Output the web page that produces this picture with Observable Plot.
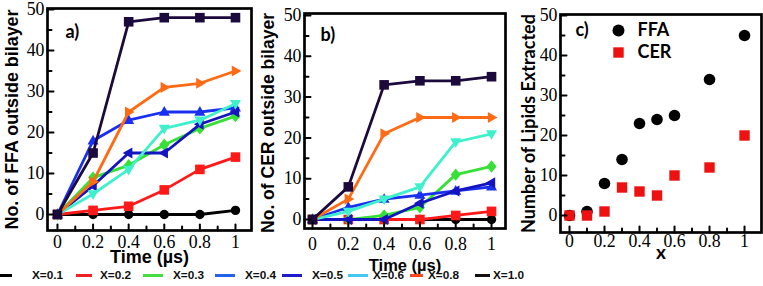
<!DOCTYPE html>
<html>
<head>
<meta charset="utf-8">
<script src="https://cdn.jsdelivr.net/npm/d3@7"></script>
<script src="https://cdn.jsdelivr.net/npm/@observablehq/plot@0.6"></script>
<style>
html, body { margin: 0; padding: 0; background: #fff; }
#chart { position: relative; width: 763px; height: 286px; overflow: hidden; background: #fff; }
#chart svg { position: absolute; top: 0; }
.legline { position: absolute; height: 3px; top: 274px; }
.legtext { position: absolute; top: 268px; line-height: 16px; font: bold 11.8px "Liberation Sans", Arial, sans-serif; color: #111; white-space: nowrap; }
</style>
</head>
<body>
<div id="chart"></div>
<script>
// ---------- data ----------
const times = [0, 0.2, 0.4, 0.6, 0.8, 1];
const seriesNames = ["X=0.1", "X=0.2", "X=0.3", "X=0.4", "X=0.5", "X=0.6", "X=0.8", "X=1.0"];
// FFA outside bilayer (panel a), one row per series
const ffaValues = [
  [0, 0, 0, 0, 0, 1],
  [0, 1, 2, 6, 11, 14],
  [0, 9, 12, 17, 21, 24],
  [0, 18, 23, 25, 25, 26],
  [0, 7, 15, 15, 22, 25],
  [0, 5, 11, 21, 23, 27],
  [0, 8, 25, 31, 32, 35],
  [0, 15, 47, 48, 48, 48]
];
// CER outside bilayer (panel b)
const cerValues = [
  [0, 0, 0, 0, 0, 0],
  [0, 0, 0, 0, 1, 2],
  [0, 0, 1, 3, 11, 13],
  [0, 3, 5, 6, 7, 8],
  [0, 0, 0, 4, 7, 9],
  [0, 2, 5, 8, 19, 21],
  [0, 5, 21, 25, 25, 25],
  [0, 8, 33, 34, 34, 35]
];
// panel c
const xFraction = [0, 0.1, 0.2, 0.3, 0.4, 0.5, 0.6, 0.8, 1];
const ffaExtracted = [0, 1, 8, 14, 23, 24, 25, 34, 45];
const cerExtracted = [0, 0, 1, 7, 6, 5, 10, 12, 20];
// ticks
const xMajorTicks = [0, 0.2, 0.4, 0.6, 0.8, 1];
const xMajorLabels = ["0", "0.2", "0.4", "0.6", "0.8", "1"];
const xMinorTicks = [0.1, 0.3, 0.5, 0.7, 0.9];
const yMajorTicks = [0, 10, 20, 30, 40, 50];
const yMinorTicks = [5, 15, 25, 35, 45];

// ---------- styles ----------
const seriesColors = ["#000000", "#ff1a1a", "#36e036", "#1a30f0", "#1414c0", "#3ef0cc", "#ff6a14", "#1c0a3c"];
const legendColors = ["#000000", "#ee2020", "#44dd44", "#2262ee", "#1c1ccc", "#44c8f0", "#ff4422", "#111111"];
const serifFont = "'Liberation Serif', 'Times New Roman', 'DejaVu Serif', serif";

function polySymbol(pts) {
  return {
    draw(ctx, size) {
      const r = Math.sqrt(size / Math.PI);
      ctx.moveTo(pts[0][0] * r, pts[0][1] * r);
      for (let i = 1; i < pts.length; i++) ctx.lineTo(pts[i][0] * r, pts[i][1] * r);
      ctx.closePath();
    }
  };
}
const symSquare = polySymbol([[-1, -1], [1, -1], [1, 1], [-1, 1]]);
const symDiamond = polySymbol([[0, -1.35], [1.1, 0], [0, 1.35], [-1.1, 0]]);
const symUp = polySymbol([[0, -1.3], [1.2, 0.8], [-1.2, 0.8]]);
const symDown = polySymbol([[0, 1.3], [1.2, -0.8], [-1.2, -0.8]]);
const symLeft = polySymbol([[-1.3, 0], [0.8, -1.2], [0.8, 1.2]]);
const symRight = polySymbol([[1.3, 0], [-0.8, -1.2], [-0.8, 1.2]]);
const seriesSymbols = ["circle", symSquare, symDiamond, symUp, symLeft, symDown, symRight, symSquare];
const seriesR = [4.7, 4.8, 4.6, 4.6, 4.6, 4.6, 4.6, 4.8];

const tickShape = { draw(ctx, l) { ctx.moveTo(0, 0); ctx.lineTo(0, -l); } };

const chart = document.getElementById("chart");

function axisMarks(o) {
  return [
    Plot.frame({ stroke: "#000", strokeWidth: 2.7 }),
    Plot.vector(xMajorTicks, { x: d => d, frameAnchor: "bottom", length: 6, rotate: 0, anchor: "start", shape: tickShape, strokeWidth: 2, stroke: "#000" }),
    Plot.vector(xMinorTicks, { x: d => d, frameAnchor: "bottom", length: 4, rotate: 0, anchor: "start", shape: tickShape, strokeWidth: 2, stroke: "#000" }),
    Plot.vector(yMajorTicks, { y: d => d, frameAnchor: "left", length: 6, rotate: 90, anchor: "start", shape: tickShape, strokeWidth: 2, stroke: "#000" }),
    Plot.vector(yMinorTicks, { y: d => d, frameAnchor: "left", length: 4, rotate: 90, anchor: "start", shape: tickShape, strokeWidth: 2, stroke: "#000" }),
    Plot.text(xMajorTicks, { x: d => d, text: (d, i) => xMajorLabels[i], frameAnchor: "bottom", dy: o.xLabelDy, textAnchor: "middle", lineAnchor: "middle", fontFamily: serifFont, fontSize: 17.8, fill: "#000" }),
    Plot.text(yMajorTicks, { y: d => d, text: d => String(d), frameAnchor: "left", dx: -3, textAnchor: "end", lineAnchor: "middle", fontFamily: serifFont, fontSize: 17.8, fill: "#000" }),
    Plot.text([o.xTitle], { frameAnchor: "bottom", dy: o.xTitleDy, textAnchor: "middle", lineAnchor: "middle", fontFamily: o.xTitleFont, fontWeight: "bold", fontSize: o.xTitleSize, fill: "#000" }),
    Plot.text([o.yTitle], { frameAnchor: "left", dx: o.yTitleDx, dy: o.yTitleDy, rotate: -90, textAnchor: "middle", lineAnchor: "middle", fontFamily: o.yTitleFont, fontWeight: "bold", fontSize: o.yTitleSize, fill: "#000" }),
    Plot.text([o.tag], { frameAnchor: "top-left", dx: o.tagDx, dy: o.tagDy, textAnchor: "start", lineAnchor: "middle", fontFamily: "Lato", fontWeight: "bold", fontSize: 18, fill: "#000" })
  ];
}

function seriesMarks(values) {
  const marks = [];
  values.forEach((vals, s) => {
    const rows = times.map((t, i) => ({ t, v: vals[i] }));
    marks.push(Plot.line(rows, { x: "t", y: "v", stroke: seriesColors[s], strokeWidth: 2.8 }));
    marks.push(Plot.dot(rows, { x: "t", y: "v", fill: seriesColors[s], stroke: "none", symbol: seriesSymbols[s], r: seriesR[s] }));
  });
  return marks;
}

function panel(o, marks) {
  const svg = Plot.plot({
    width: o.width, height: 286,
    marginLeft: o.ml, marginRight: o.mr, marginTop: o.mt, marginBottom: o.mb,
    x: { domain: o.xDomain, axis: null },
    y: { domain: o.yDomain, axis: null },
    style: { background: "transparent", overflow: "visible" },
    marks: [...marks, ...axisMarks(o)]
  });
  svg.style.left = o.left + "px";
  chart.appendChild(svg);
  // scale the rotated axis title so that it spans the same length as in the reference
  d3.select(svg).selectAll("text").filter(function () { return this.textContent === o.yTitle; })
    .each(function () {
      const len = this.getComputedTextLength();
      if (len > 0) this.style.fontSize = (o.yTitleSize * o.yTitleLen / len).toFixed(2) + "px";
    });
}

// Panel a
panel({
  left: 0, width: 256, ml: 47, mr: 5, mt: 8, mb: 56,
  xDomain: [-0.056, 1.09], yDomain: [-3.9, 50.24],
  xLabelDy: 12, xTitle: "Time (µs)", xTitleDy: 27, xTitleFont: "Liberation Sans", xTitleSize: 18,
  yTitle: "No. of FFA outside bilayer", yTitleDx: -35, yTitleDy: 0, yTitleFont: "Liberation Sans", yTitleSize: 17.7, yTitleLen: 220,
  tag: "a)", tagDx: 18, tagDy: 24
}, seriesMarks(ffaValues));

// Panel b
panel({
  left: 256, width: 254, ml: 48, mr: 5, mt: 13, mb: 58,
  xDomain: [-0.0447, 1.078], yDomain: [-2.2, 50.49],
  xLabelDy: 16, xTitle: "Time (µs)", xTitleDy: 37, xTitleFont: "Liberation Sans", xTitleSize: 16.5,
  yTitle: "No. of CER outside bilayer", yTitleDx: -36, yTitleDy: 2, yTitleFont: "Liberation Sans", yTitleSize: 17.5, yTitleLen: 220,
  tag: "b)", tagDx: 16, tagDy: 22
}, seriesMarks(cerValues));

// Panel c
const ffaRows = xFraction.map((x, i) => ({ x, v: ffaExtracted[i] }));
const cerRows = xFraction.map((x, i) => ({ x, v: cerExtracted[i] }));
panel({
  left: 510, width: 253, ml: 50, mr: 2, mt: 14, mb: 54,
  xDomain: [-0.0514, 1.097], yDomain: [-4.25, 50.25],
  xLabelDy: 9, xTitle: "x", xTitleDy: 20, xTitleFont: "Lato", xTitleSize: 19,
  yTitle: "Number of Lipids Extracted", yTitleDx: -31, yTitleDy: 0, yTitleFont: "Lato", yTitleSize: 19, yTitleLen: 219,
  tag: "c)", tagDx: 15, tagDy: 16
}, [
  Plot.dot(ffaRows, { x: "x", y: "v", fill: "#000", stroke: "none", symbol: "circle", r: 5.8 }),
  Plot.dot(cerRows, { x: "x", y: "v", fill: "#ee1111", stroke: "none", symbol: symSquare, r: 5.2 }),
  Plot.dot(["FFA"], { frameAnchor: "top-left", dx: 58, dy: 16, fill: "#000", stroke: "none", symbol: "circle", r: 6 }),
  Plot.dot(["CER"], { frameAnchor: "top-left", dx: 58, dy: 38, fill: "#ee1111", stroke: "none", symbol: symSquare, r: 5.2 }),
  Plot.text(["FFA"], { frameAnchor: "top-left", dx: 77, dy: 16, textAnchor: "start", lineAnchor: "middle", fontFamily: "Lato", fontWeight: "bold", fontSize: 18, fill: "#000" }),
  Plot.text(["CER"], { frameAnchor: "top-left", dx: 77, dy: 38, textAnchor: "start", lineAnchor: "middle", fontFamily: "Lato", fontWeight: "bold", fontSize: 18, fill: "#000" })
]);

// Bottom legend
const legendLineX = [0, 76, 143, 215, 282, 348, 410, 475];
const legendLineW = [12, 16, 20, 20, 20, 20, 13, 15];
const legendTextX = [32, 100, 173, 245, 312, 373, 428, 493];
seriesNames.forEach((name, i) => {
  const ln = document.createElement("div");
  ln.className = "legline";
  ln.style.left = legendLineX[i] + "px";
  ln.style.width = legendLineW[i] + "px";
  ln.style.background = legendColors[i];
  chart.appendChild(ln);
  const tx = document.createElement("div");
  tx.className = "legtext";
  tx.style.left = legendTextX[i] + "px";
  tx.textContent = name;
  chart.appendChild(tx);
});
</script>
</body>
</html>
